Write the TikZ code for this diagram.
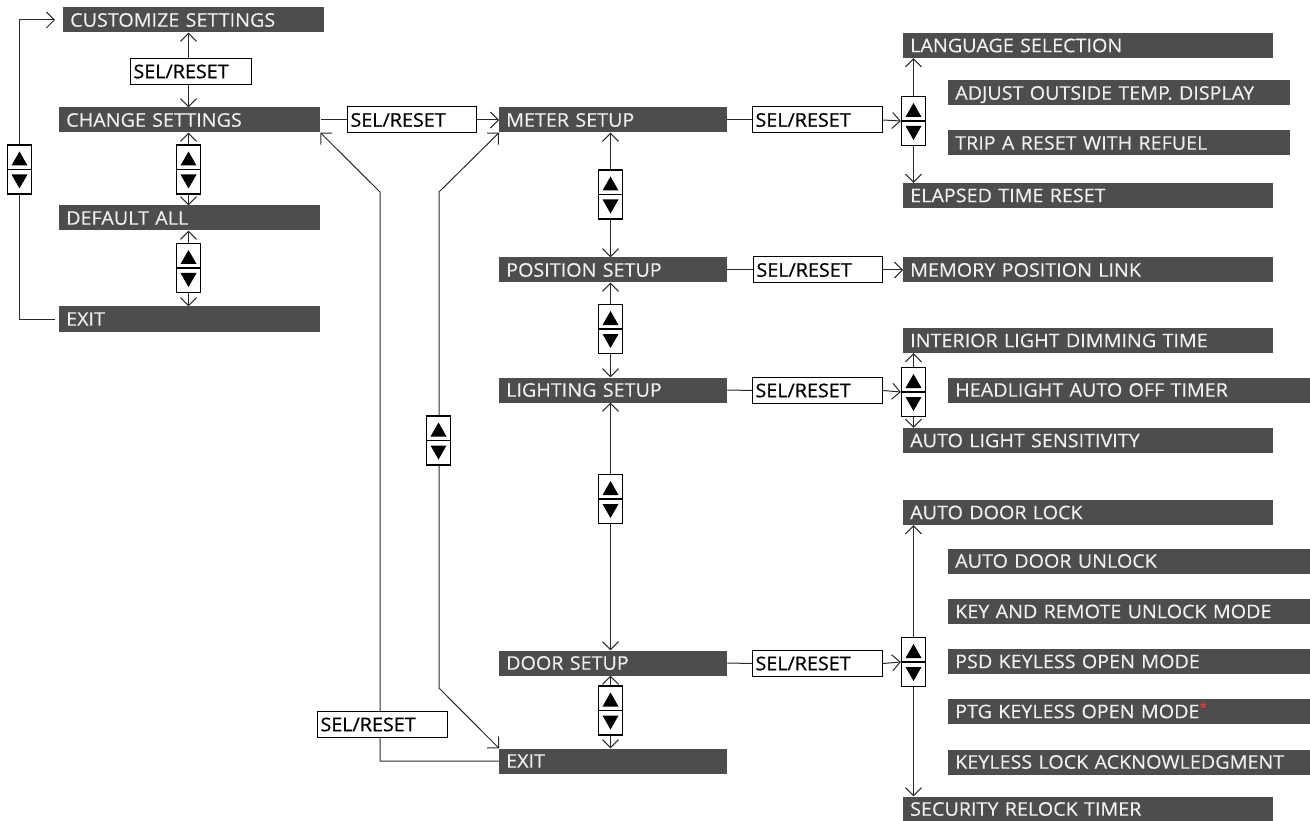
\documentclass[tikz,border=0pt]{standalone}
\usepackage{fontspec}
\setmainfont{Open Sans}[FakeStretch=1.05,FakeBold=0.3]
\newfontfamily\selfont{Open Sans}[FakeStretch=1.05,FakeBold=0.6]
\usetikzlibrary{arrows.meta,calc,backgrounds}
\definecolor{barc}{HTML}{4D4D4D}
\definecolor{linec}{HTML}{2A2A2A}
\definecolor{astc}{HTML}{E53935}
\begin{document}
\begin{tikzpicture}[x=1pt,y=-1pt,
  >={Straight Barb[length=8pt,width=16pt]},
  bar/.style={fill=barc, text=white!94!black, anchor=west, inner xsep=7pt, inner ysep=0pt,
    minimum height=25pt, text height=13.4pt, text depth=0pt, align=left,
    font=\fontsize{18.8}{20}\selectfont, text width=#1-14pt, minimum width=#1},
  sel/.style={draw=black, line width=1pt, fill=white, anchor=west, inner xsep=2.5pt, inner ysep=0pt,
    minimum height=26pt, text height=13.4pt, text depth=0pt, align=left,
    font=\selfont\fontsize{18.8}{20}\selectfont, text width=#1-6pt, minimum width=#1},
  ud/.style={draw=black, line width=1.2pt, fill=white, minimum width=24pt, minimum height=49pt,
    inner sep=0pt, path picture={
      \fill[black] ($(path picture bounding box.center)+(0pt,18pt)$) -- ++(-8pt,-14pt) -- ++(16pt,0pt) -- cycle;
      \fill[black] ($(path picture bounding box.center)+(0pt,-19pt)$) -- ++(-8pt,14pt) -- ++(16pt,0pt) -- cycle;
      \draw[line width=1.2pt] (path picture bounding box.west) -- (path picture bounding box.east);
    }},
  con/.style={draw=linec, line width=1pt},
]
\useasboundingbox (0,0) rectangle (1310,821);

% left column bars
\node[bar=261pt] (c0) at (63,20) {CUSTOMIZE SETTINGS};
\node[bar=261pt] (c1) at (59,120) {CHANGE SETTINGS};
\node[bar=261pt] (c2) at (59,218) {DEFAULT ALL};
\node[bar=261pt] (c3) at (59,319) {EXIT};
% middle column bars
\node[bar=228pt] (m0) at (499,120) {METER SETUP};
\node[bar=228pt] (m1) at (499,270) {POSITION SETUP};
\node[bar=228pt] (m2) at (499,390) {LIGHTING SETUP};
\node[bar=228pt] (m3) at (499,663) {DOOR SETUP};
\node[bar=228pt] (m4) at (499,761) {EXIT};
% right column bars
\node[bar=370pt] (r0) at (903,45.5) {LANGUAGE SELECTION};
\node[bar=342pt] (r1) at (948,93) {ADJUST OUTSIDE TEMP. DISPLAY};
\node[bar=342pt] (r2) at (948,143) {TRIP A RESET WITH REFUEL};
\node[bar=370pt] (r3) at (903,195.5) {ELAPSED TIME RESET};
\node[bar=370pt] (p0) at (903,270) {MEMORY POSITION LINK};
\node[bar=370pt] (l0) at (903,340.5) {INTERIOR LIGHT DIMMING TIME};
\node[bar=362pt] (l1) at (948,390) {HEADLIGHT AUTO OFF TIMER};
\node[bar=370pt] (l2) at (903,440.5) {AUTO LIGHT SENSITIVITY};
\node[bar=370pt] (d0) at (903,512.5) {AUTO DOOR LOCK};
\node[bar=362pt] (d1) at (948,561) {AUTO DOOR UNLOCK};
\node[bar=362pt] (d2) at (948,611.5) {KEY AND REMOTE UNLOCK MODE};
\node[bar=362pt] (d3) at (948,661.5) {PSD KEYLESS OPEN MODE};
\node[bar=362pt] (d4) at (948,711.5) {PTG KEYLESS OPEN MODE\textsuperscript{\textcolor{astc}{*}}};
\node[bar=362pt] (d5) at (948,762) {KEYLESS LOCK ACKNOWLEDGMENT};
\node[bar=370pt] (d6) at (903,809) {SECURITY RELOCK TIMER};

% SEL/RESET boxes
\node[sel=121pt] (s0) at (130,71.5) {SEL/RESET};
\node[sel=129pt] (s1) at (347,120) {SEL/RESET};
\node[sel=130pt] (s2) at (752,120) {SEL/RESET};
\node[sel=129pt] (s3) at (753,270) {SEL/RESET};
\node[sel=130pt] (s4) at (752,390.5) {SEL/RESET};
\node[sel=130pt] (s5) at (752,663.5) {SEL/RESET};
\node[sel=130pt] (s6) at (317,724.5) {SEL/RESET};

% up/down buttons
\node[ud] (ub0) at (19.5,169.5) {};
\node[ud] (ub1) at (188.5,169.5) {};
\node[ud] (ub2) at (188.5,268) {};
\node[ud] (mb1) at (610.5,194.5) {};
\node[ud] (mb2) at (610.5,329) {};
\node[ud] (mb3) at (610.5,499) {};
\node[ud] (mb4) at (610.5,710.5) {};
\node[ud] (vb) at (438.5,440.5) {};
\node[ud] (rb1) at (913.5,121) {};
\node[ud] (rb2) at (913.5,392) {};
\node[ud] (rb3) at (913.5,662) {};

\coordinate (k1) at (380,192);
\coordinate (k2) at (439,192);
\coordinate (k3) at (439,688);

\begin{scope}[on background layer]
  % left column
  \draw[con,<->] (c0.south -| ub1.center) -- (c1.north -| ub1.center);
  \draw[con,<->] (c1.south -| ub1.center) -- (c2.north -| ub1.center);
  \draw[con,<->] (c2.south -| ub2.center) -- (c3.north -| ub2.center);
  \draw[con,->,shorten <=4pt,shorten >=8pt] (c3.west) -- (c3.west -| ub0.center) -- (ub0.center |- c0.west) -- (c0.west);
  % change -> meter
  \draw[con,shorten <=1pt] (c1.east) -- (s1.west);
  \draw[con,->] (s1.east) -- (m0.west);
  % meter
  \draw[con] (m0.east) -- (s2.west);
  \draw[con,->] (s2.east) -- (rb1.west);
  \draw[con,<->] (r0.south -| rb1.center) -- (r3.north -| rb1.center);
  % position
  \draw[con] (m1.east) -- (s3.west);
  \draw[con,->] (s3.east) -- (p0.west);
  % lighting
  \draw[con] (m2.east) -- (s4.west);
  \draw[con,->] (s4.east) -- (rb2.west);
  \draw[con,<->] (l0.south -| rb2.center) -- (l2.north -| rb2.center);
  % door
  \draw[con] (m3.east) -- (s5.west);
  \draw[con,->] (s5.east) -- (rb3.west);
  \draw[con,<->] (d0.south -| rb3.center) -- (d6.north -| rb3.center);
  % middle verticals
  \draw[con,<->] (m0.south -| mb1.center) -- (m1.north -| mb1.center);
  \draw[con,<->] (m1.south -| mb2.center) -- (m2.north -| mb2.center);
  \draw[con,<->] (m2.south -| mb3.center) -- (m3.north -| mb3.center);
  \draw[con,<->] (m3.south -| mb4.center) -- (m4.north -| mb4.center);
  % loops
  \draw[con,->] (m4.west) -- (k1 |- m4.west) -- (k1) -- (c1.south east);
  \draw[con,<->] (m0.south west) -- (k2) -- (k3) -- (m4.north west);
\end{scope}
\end{tikzpicture}
\end{document}
